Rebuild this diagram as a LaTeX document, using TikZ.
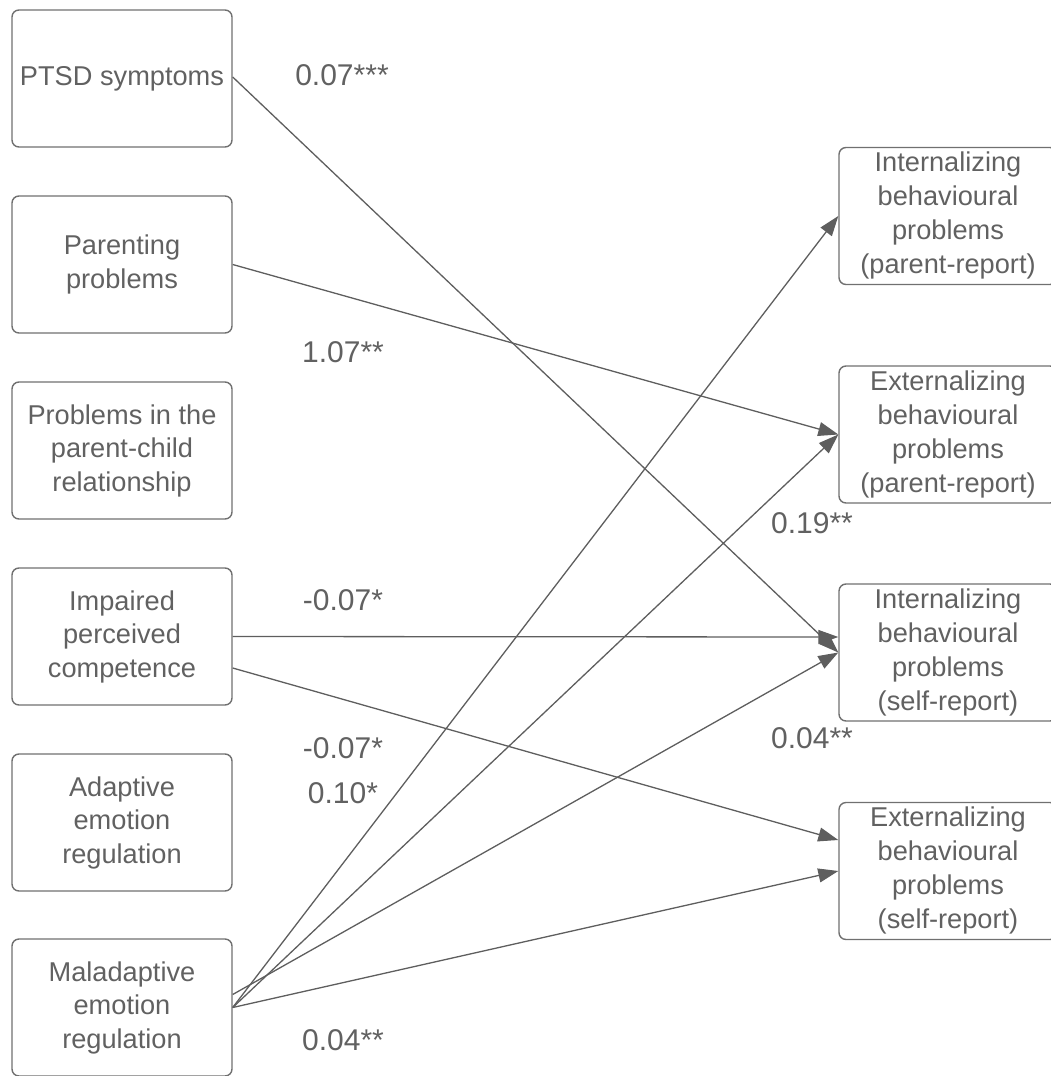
\documentclass[tikz,border=0pt]{standalone}
\usepackage{fontspec}
\setmainfont{Liberation Sans}
\usetikzlibrary{arrows.meta,calc}
\definecolor{txt}{HTML}{616161}
\definecolor{ln}{HTML}{5E5E5E}
\definecolor{bx}{HTML}{707070}
\tikzset{
  box/.style={draw=bx, line width=1.4pt, rounded corners=7pt, align=center, text=txt,
    font=\fontsize{27.2}{33.5}\selectfont, inner sep=0pt},
  lbox/.style={box, minimum width=220pt, minimum height=137pt},
  rbox/.style={box, minimum width=218pt, minimum height=137pt},
  arr/.style={draw=ln, line width=1.3pt, -{Triangle[length=20pt,width=14pt]}},
  lab/.style={text=txt, font=\fontsize{30}{36}\selectfont, inner sep=0pt}
}
\begin{document}
\begin{tikzpicture}[x=1pt,y=-1pt]
\useasboundingbox (0,0) rectangle (1050,1076);
% left boxes
\node[lbox] (ptsd) at (122,78.5) {\raisebox{3pt}{PTSD symptoms}};
\node[lbox] (par) at (122,264.5) {Parenting\\problems};
\node[lbox] (pcr) at (122,450.5) {Problems in the\\parent-child\\relationship};
\node[lbox] (imp) at (122,636.5) {Impaired\\perceived\\competence};
\node[lbox] (ada) at (122,822.5) {Adaptive\\emotion\\regulation};
\node[lbox] (mal) at (122,1007.5) {Maladaptive\\emotion\\regulation};
% right boxes
\node[rbox] (ip) at (948,216) {\raisebox{-3pt}{\begin{tabular}{@{}c@{}}Internalizing\\[0.5pt]behavioural\\[0.5pt]problems\\[0.5pt](parent-report)\end{tabular}}};
\node[rbox] (ep) at (948,434.5) {\raisebox{-3pt}{\begin{tabular}{@{}c@{}}Externalizing\\[0.5pt]behavioural\\[0.5pt]problems\\[0.5pt](parent-report)\end{tabular}}};
\node[rbox] (is) at (948,652.5) {\raisebox{-3pt}{\begin{tabular}{@{}c@{}}Internalizing\\[0.5pt]behavioural\\[0.5pt]problems\\[0.5pt](self-report)\end{tabular}}};
\node[rbox] (es) at (948,871) {\raisebox{-3pt}{\begin{tabular}{@{}c@{}}Externalizing\\[0.5pt]behavioural\\[0.5pt]problems\\[0.5pt](self-report)\end{tabular}}};
% connectors
\draw[arr] ($(ptsd.east)+(0,-1.5)$) -- (is.west);
\draw[arr] (par.east) -- (ep.west);
\draw[arr] (imp.east) -- ($(is.west)+(0,-15.5)$);
\draw[arr] ($(imp.east)+(0,31.5)$) -- ($(es.west)+(0,-31)$);
\draw[arr] (mal.east) -- (ip.west);
\draw[arr] (mal.east) -- (ep.west);
\draw[arr] ($(mal.east)+(0,-13)$) -- (is.west);
\draw[arr] (mal.east) -- (es.west);
% labels
\node[lab] (l1) at (342,75) {0.07***};
\node[lab] (l2) at (343,352) {1.07**};
\node[lab] (l3) at (812,523) {0.19**};
\node[lab] (l4) at (343,600) {-0.07*};
\node[lab] (l5) at (812,738) {0.04**};
\node[lab] (l6) at (343,748) {-0.07*};
\node[lab] (l7) at (343,793) {0.10*};
\node[lab] (l8) at (343,1040) {0.04**};
\end{tikzpicture}
\end{document}
